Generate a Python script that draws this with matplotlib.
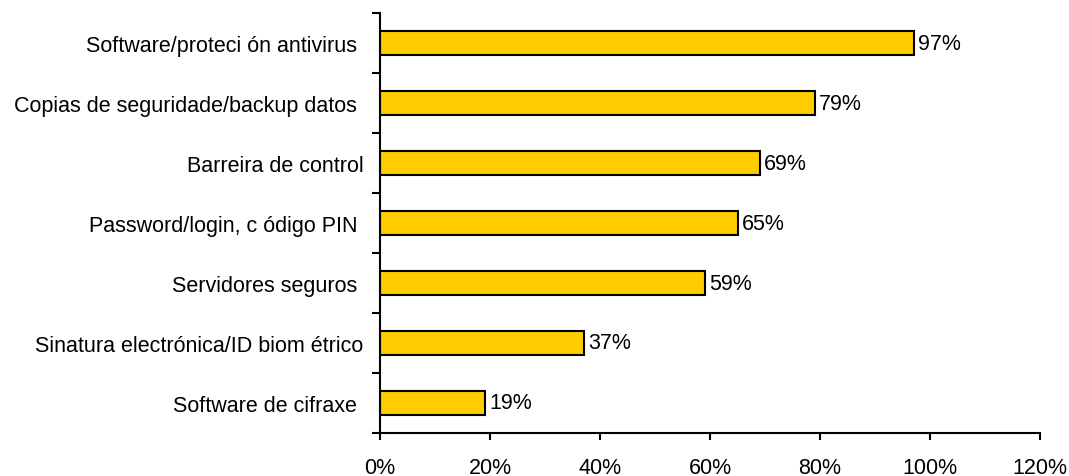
import numpy as np
import matplotlib.pyplot as plt
from matplotlib.ticker import FuncFormatter

plt.rcParams['font.family'] = ['Liberation Sans', 'DejaVu Sans']

labels = ['Software/proteci ón antivirus ', 'Copias de seguridade/backup datos ',
          'Barreira de control', 'Password/login, c ódigo PIN ',
          'Servidores seguros ', 'Sinatura electrónica/ID biom étrico',
          'Software de cifraxe ']
values = [0.97, 0.79, 0.69, 0.65, 0.59, 0.37, 0.19]
xticks = [0, 0.2, 0.4, 0.6, 0.8, 1.0, 1.2]

fig = plt.figure(figsize=(10.69, 4.77), dpi=100)
ax = fig.add_axes([380/1069, 1 - 434/477, 660/1069, 420/477])

y = np.arange(len(labels))[::-1]
ax.barh(y, values, height=0.4, color='#FFCC00', edgecolor='black', linewidth=1.5)
for yi, v in zip(y, values):
    ax.text(v + 0.008, yi, f'{int(round(v*100))}%', va='center', ha='left', fontsize=15.5)

ax.set_xlim(0, 1.2)
ax.set_ylim(-0.5, len(labels) - 0.5)
ax.set_xticks(xticks)
ax.xaxis.set_major_formatter(FuncFormatter(lambda v, p: f'{int(round(v*100))}%'))
ax.set_yticks(y)
ax.set_yticklabels(labels)
ax.set_yticks(np.arange(len(labels) + 1) - 0.5, minor=True)

ax.tick_params(axis='y', which='major', length=0, pad=12, labelsize=15.5)
ax.tick_params(axis='y', which='minor', length=6, width=1.5, direction='out')
ax.tick_params(axis='x', length=5, width=1.5, direction='out', pad=12, labelsize=15.5)

for s in ['top', 'right']:
    ax.spines[s].set_visible(False)
for s in ['left', 'bottom']:
    ax.spines[s].set_linewidth(1.5)

fig.savefig('out.png', dpi=100)
